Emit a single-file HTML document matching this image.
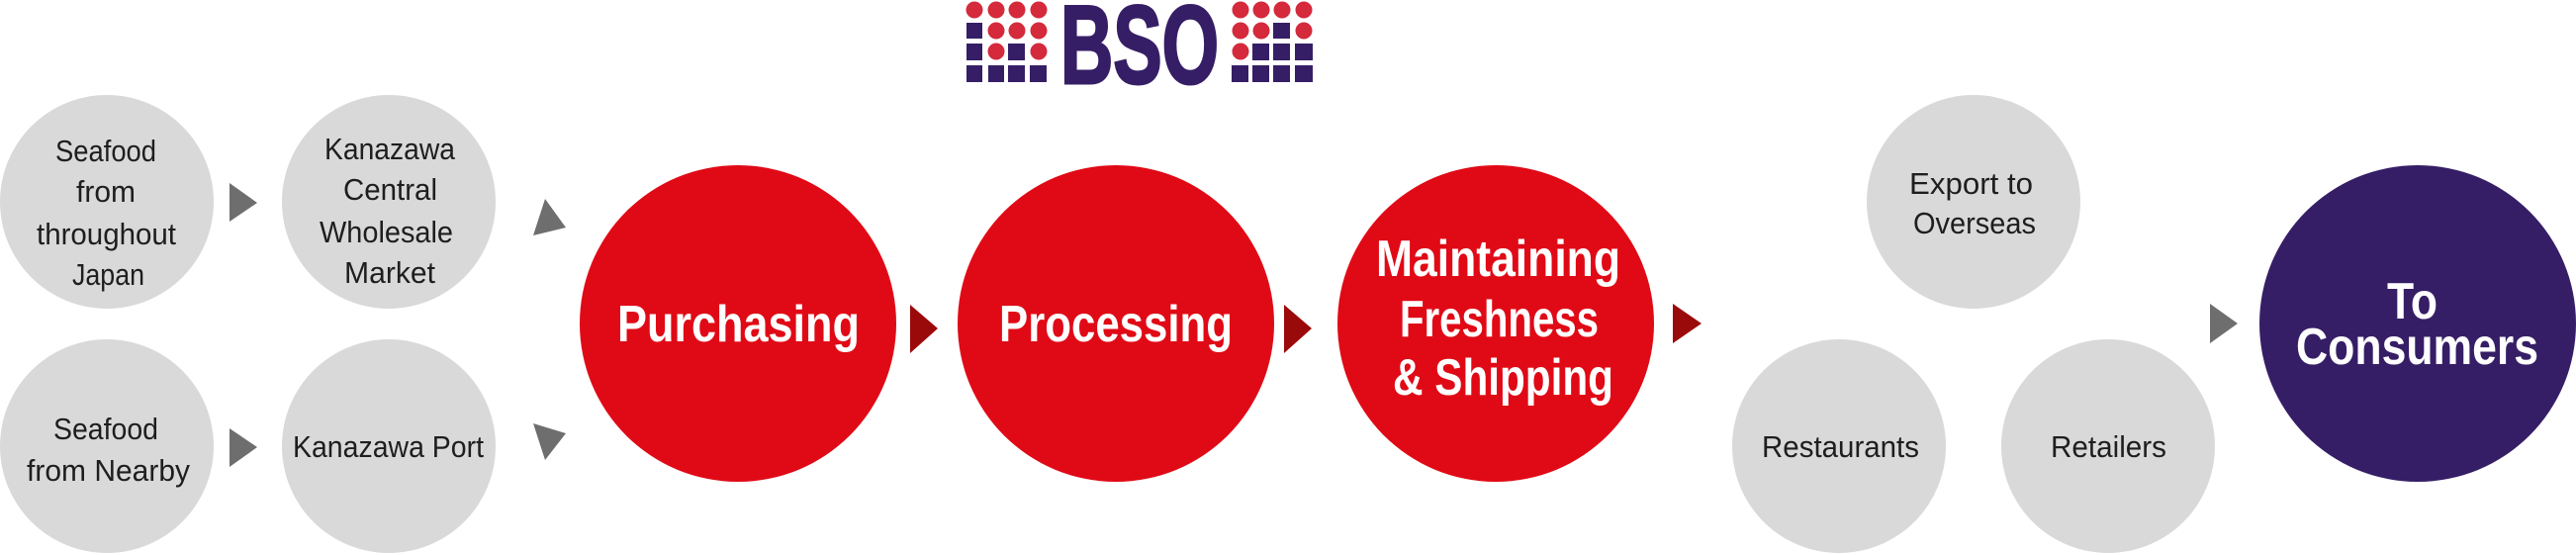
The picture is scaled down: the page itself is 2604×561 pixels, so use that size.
<!DOCTYPE html>
<html><head><meta charset="utf-8"><style>
html,body{margin:0;padding:0;background:#fff;}
svg{display:block;}
text{font-family:"Liberation Sans Narrow","Liberation Sans",sans-serif;}
.g{fill:#d9d9d9}.r{fill:#e00a16}
.t{fill:#1e1e1e;font-size:31px}
.w{fill:#fff;font-size:52px;font-weight:bold}
</style></head><body>
<svg width="2604" height="561" viewBox="0 0 2604 561" xmlns="http://www.w3.org/2000/svg">
<g fill="#d42a3c">
<circle cx="985" cy="10" r="8.5"/><circle cx="1007" cy="10" r="8.5"/><circle cx="1028" cy="10" r="8.5"/><circle cx="1050" cy="10" r="8.5"/>
<circle cx="1007" cy="31" r="8.5"/><circle cx="1028" cy="31" r="8.5"/><circle cx="1050" cy="31" r="8.5"/>
<circle cx="1007" cy="52" r="8.5"/><circle cx="1050" cy="52" r="8.5"/>
<circle cx="1254" cy="10" r="8.5"/><circle cx="1275" cy="10" r="8.5"/><circle cx="1296" cy="10" r="8.5"/><circle cx="1318" cy="10" r="8.5"/>
<circle cx="1254" cy="31" r="8.5"/><circle cx="1275" cy="31" r="8.5"/><circle cx="1318" cy="31" r="8.5"/>
<circle cx="1254" cy="52" r="8.5"/>
</g>
<g fill="#361e66">
<rect x="977" y="23" width="16" height="16"/>
<rect x="977" y="44" width="16" height="17"/><rect x="1019" y="44" width="17" height="17"/>
<rect x="977" y="66" width="16" height="17"/><rect x="999" y="66" width="16" height="17"/><rect x="1019" y="66" width="17" height="17"/><rect x="1041" y="66" width="17" height="17"/>
<rect x="1287" y="23" width="17" height="16"/>
<rect x="1266" y="44" width="17" height="17"/><rect x="1287" y="44" width="17" height="17"/><rect x="1309" y="44" width="18" height="17"/>
<rect x="1245" y="66" width="17" height="17"/><rect x="1266" y="66" width="17" height="17"/><rect x="1287" y="66" width="17" height="17"/><rect x="1309" y="66" width="18" height="17"/>
<text x="1072" y="84" font-size="112" font-weight="bold" textLength="160" lengthAdjust="spacingAndGlyphs" style="fill:#361e66;stroke:#361e66;stroke-width:3">BSO</text>
</g>
<circle class="g" cx="108" cy="204" r="108"/>
<circle class="g" cx="393" cy="204" r="108"/>
<circle class="g" cx="108" cy="451" r="108"/>
<circle class="g" cx="393" cy="451" r="108"/>
<circle class="g" cx="1995" cy="204" r="108"/>
<circle class="g" cx="1859" cy="451" r="108"/>
<circle class="g" cx="2131" cy="451" r="108"/>
<circle class="r" cx="746" cy="327" r="160"/>
<circle class="r" cx="1128" cy="327" r="160"/>
<circle class="r" cx="1512" cy="327" r="160"/>
<circle fill="#361e66" cx="2444" cy="327" r="160"/>
<g fill="#6e6e6e">
<polygon points="232,185 260,205 232,224"/>
<polygon points="232,433 260,452 232,472"/>
<polygon points="551,201 572,230 539,238"/>
<polygon points="539,428 572,438 551,465"/>
<polygon points="2234,307 2262,327 2234,347"/>
</g>
<g fill="#9b0a0a">
<polygon points="920,308 948,332 920,357"/>
<polygon points="1298,308 1326,332 1298,357"/>
<polygon points="1691,307 1720,327 1691,347"/>
</g>
<text class="t" x="56" y="163" textLength="102" lengthAdjust="spacingAndGlyphs">Seafood</text>
<text class="t" x="77" y="204" textLength="60" lengthAdjust="spacingAndGlyphs">from</text>
<text class="t" x="37" y="247" textLength="141" lengthAdjust="spacingAndGlyphs">throughout</text>
<text class="t" x="73" y="288" textLength="73" lengthAdjust="spacingAndGlyphs">Japan</text>
<text class="t" x="328" y="161" textLength="132" lengthAdjust="spacingAndGlyphs">Kanazawa</text>
<text class="t" x="347" y="202" textLength="95" lengthAdjust="spacingAndGlyphs">Central</text>
<text class="t" x="323" y="245" textLength="135" lengthAdjust="spacingAndGlyphs">Wholesale</text>
<text class="t" x="348" y="286" textLength="92" lengthAdjust="spacingAndGlyphs">Market</text>
<text class="t" x="54" y="444" textLength="106" lengthAdjust="spacingAndGlyphs">Seafood</text>
<text class="t" x="27" y="486" textLength="165" lengthAdjust="spacingAndGlyphs">from Nearby</text>
<text class="t" x="296" y="462" textLength="193" lengthAdjust="spacingAndGlyphs">Kanazawa Port</text>
<text class="t" x="1930" y="196" textLength="125" lengthAdjust="spacingAndGlyphs">Export to</text>
<text class="t" x="1934" y="236" textLength="124" lengthAdjust="spacingAndGlyphs">Overseas</text>
<text class="t" x="1781" y="462" textLength="159" lengthAdjust="spacingAndGlyphs">Restaurants</text>
<text class="t" x="2073" y="462" textLength="117" lengthAdjust="spacingAndGlyphs">Retailers</text>
<text class="w" x="624" y="345" textLength="245" lengthAdjust="spacingAndGlyphs">Purchasing</text>
<text class="w" x="1010" y="345" textLength="236" lengthAdjust="spacingAndGlyphs">Processing</text>
<text class="w" x="1391" y="279" textLength="247" lengthAdjust="spacingAndGlyphs">Maintaining</text>
<text class="w" x="1415" y="340" textLength="201" lengthAdjust="spacingAndGlyphs">Freshness</text>
<text class="w" x="1408" y="399" textLength="223" lengthAdjust="spacingAndGlyphs">&amp; Shipping</text>
<text class="w" x="2413" y="322" textLength="51" lengthAdjust="spacingAndGlyphs">To</text>
<text class="w" x="2321" y="368" textLength="245" lengthAdjust="spacingAndGlyphs">Consumers</text>
</svg>
</body></html>
